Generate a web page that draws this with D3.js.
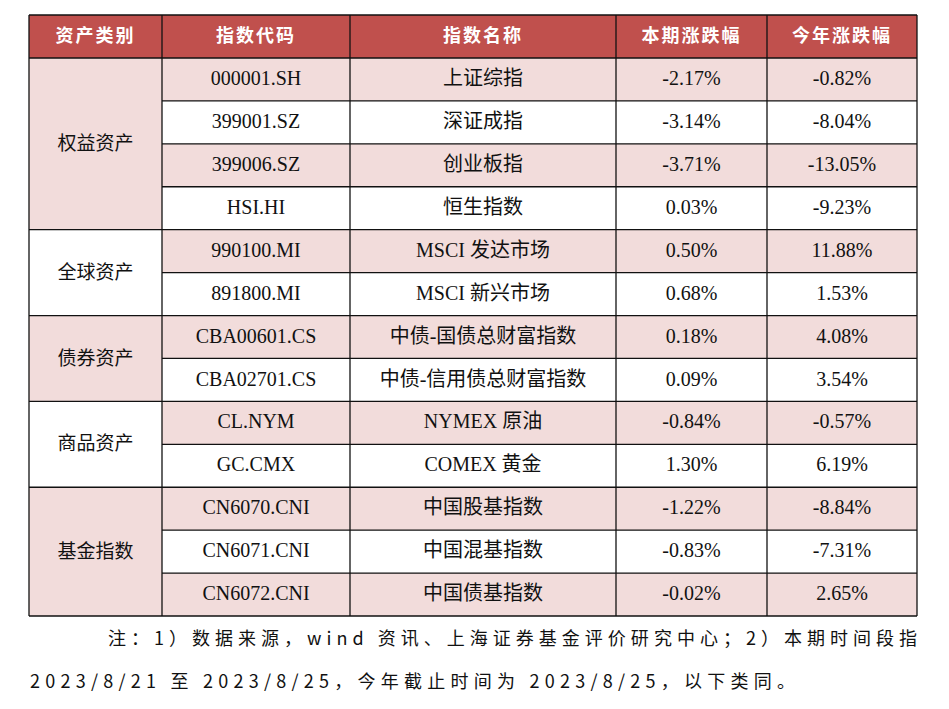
<!DOCTYPE html>
<html><head><meta charset="utf-8">
<script src="https://cdn.jsdelivr.net/npm/d3@7"></script>
<style>body{margin:0;background:#fff}</style></head>
<body><svg id="c" width="949" height="709"></svg>
<script>
const headers = ["资产类别","指数代码","指数名称","本期涨跌幅","今年涨跌幅"];
const groups = [["权益资产",4],["全球资产",2],["债券资产",2],["商品资产",2],["基金指数",3]];
const codes = ["000001.SH","399001.SZ","399006.SZ","HSI.HI","990100.MI","891800.MI","CBA00601.CS","CBA02701.CS","CL.NYM","GC.CMX","CN6070.CNI","CN6071.CNI","CN6072.CNI"];
const names = ["上证综指","深证成指","创业板指","恒生指数","MSCI 发达市场","MSCI 新兴市场","中债-国债总财富指数","中债-信用债总财富指数","NYMEX 原油","COMEX 黄金","中国股基指数","中国混基指数","中国债基指数"];
const periodChg = [-2.17,-3.14,-3.71,0.03,0.50,0.68,0.18,0.09,-0.84,1.30,-1.22,-0.83,-0.02];
const ytdChg = [-0.82,-8.04,-13.05,-9.23,11.88,1.53,4.08,3.54,-0.57,6.19,-8.84,-7.31,2.65];
const notes = ["注：1）数据来源，wind 资讯、上海证券基金评价研究中心；2）本期时间段指","2023/8/21 至 2023/8/25，今年截止时间为 2023/8/25，以下类同。"];

const svg = d3.select("#c");
const colEdges = [29,162,350,616,767,917];
const tableTop = 15, headH = 43;
const y = d3.scaleBand().domain(d3.range(codes.length)).range([58,616]);
const font = "'Liberation Serif','Noto Sans CJK SC',serif";
const pink = "#f2dcdb", red = "#c0504d";

svg.append("rect").attr("x",29).attr("y",tableTop).attr("width",888).attr("height",headH).attr("fill",red);
headers.forEach((h,i)=>{
  svg.append("text").attr("x",(colEdges[i]+colEdges[i+1])/2).attr("y",tableTop+headH/2+1)
    .attr("text-anchor","middle").attr("dominant-baseline","middle")
    .attr("fill","#fff").attr("font-weight","bold").attr("font-size",18).attr("letter-spacing",2)
    .attr("font-family","'Noto Sans CJK SC',sans-serif").text(h);
});
const fmt = v => v.toFixed(2)+"%";
codes.forEach((c,r)=>{
  const fill = r%2===0 ? pink : "#fff";
  svg.append("rect").attr("x",colEdges[1]).attr("y",y(r)).attr("width",colEdges[5]-colEdges[1]).attr("height",y.bandwidth()).attr("fill",fill);
  const vals = [c,names[r],fmt(periodChg[r]),fmt(ytdChg[r])];
  vals.forEach((v,j)=>{
    svg.append("text").attr("x",(colEdges[j+1]+colEdges[j+2])/2).attr("y",y(r)+y.bandwidth()/2+1)
      .attr("text-anchor","middle").attr("dominant-baseline","middle")
      .attr("font-size",20).attr("font-family",font).attr("fill","#111").text(v);
  });
  svg.append("line").attr("x1",colEdges[1]).attr("x2",colEdges[5]).attr("y1",y(r)).attr("y2",y(r)).attr("stroke","#111").attr("stroke-width",1.3);
});
let start = 0;
groups.forEach(([g,n],i)=>{
  const y0 = y(start), y1 = y(start+n-1)+y.bandwidth();
  svg.append("rect").attr("x",colEdges[0]).attr("y",y0).attr("width",colEdges[1]-colEdges[0]).attr("height",y1-y0).attr("fill",i%2===0?pink:"#fff");
  svg.append("text").attr("x",(colEdges[0]+colEdges[1])/2).attr("y",(y0+y1)/2+1)
    .attr("text-anchor","middle").attr("dominant-baseline","middle")
    .attr("font-size",19).attr("font-family","'Noto Sans CJK SC',sans-serif").attr("fill","#111").text(g);
  svg.append("line").attr("x1",colEdges[0]).attr("x2",colEdges[1]).attr("y1",y0).attr("y2",y0).attr("stroke","#111").attr("stroke-width",1.3);
  start += n;
});
colEdges.forEach(x=>svg.append("line").attr("x1",x).attr("x2",x).attr("y1",tableTop).attr("y2",616).attr("stroke","#111").attr("stroke-width",1.3));
[tableTop,616].forEach(yy=>svg.append("line").attr("x1",29).attr("x2",917).attr("y1",yy).attr("y2",yy).attr("stroke","#111").attr("stroke-width",1.3));
svg.append("text").attr("x",108).attr("y",645).attr("font-size",18).attr("textLength",809).attr("lengthAdjust","spacing")
  .attr("font-family","'Noto Sans CJK SC',sans-serif").attr("fill","#111").text(notes[0]);
svg.append("text").attr("x",30).attr("y",688).attr("font-size",18).attr("textLength",765).attr("lengthAdjust","spacing")
  .attr("font-family","'Noto Sans CJK SC',sans-serif").attr("fill","#111").text(notes[1]);
</script></body></html>
